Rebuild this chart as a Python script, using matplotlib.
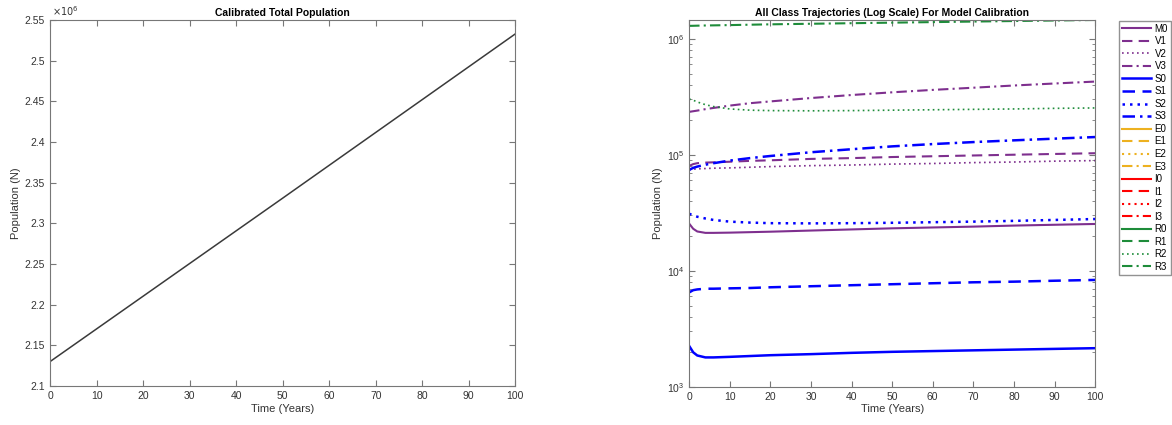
import matplotlib.pyplot as plt
from matplotlib.ticker import FixedLocator, FuncFormatter, LogLocator, NullFormatter

plt.rcParams['font.family'] = ['Liberation Sans', 'DejaVu Sans']

# left panel: total population
t_total = [0, 50, 100]
N_total = [2.130e6, 2.331e6, 2.533e6]

# right panel: class trajectories (years)
t = [0, 1, 2, 4, 6, 10, 15, 20, 30, 40, 50, 60, 70, 80, 90, 100]

M0 = [2.55e4, 2.30e4, 2.18e4, 2.12e4, 2.12e4, 2.13e4, 2.15e4, 2.17e4, 2.22e4, 2.27e4, 2.32e4, 2.36e4, 2.40e4, 2.45e4, 2.49e4, 2.53e4]
V1 = [8.0e4, 8.3e4, 8.45e4, 8.55e4, 8.6e4, 8.7e4, 8.85e4, 8.95e4, 9.2e4, 9.35e4, 9.55e4, 9.7e4, 9.85e4, 10.0e4, 10.15e4, 10.3e4]
V2 = [7.4e4, 7.5e4, 7.55e4, 7.6e4, 7.65e4, 7.7e4, 7.8e4, 7.9e4, 8.05e4, 8.15e4, 8.3e4, 8.4e4, 8.55e4, 8.65e4, 8.8e4, 8.9e4]
V3 = [2.34e5, 2.37e5, 2.40e5, 2.47e5, 2.53e5, 2.65e5, 2.78e5, 2.88e5, 3.08e5, 3.27e5, 3.45e5, 3.62e5, 3.78e5, 3.95e5, 4.11e5, 4.27e5]
S0 = [2.25e3, 1.98e3, 1.86e3, 1.79e3, 1.79e3, 1.81e3, 1.84e3, 1.87e3, 1.91e3, 1.96e3, 2.00e3, 2.03e3, 2.06e3, 2.09e3, 2.12e3, 2.15e3]
S1 = [6.5e3, 6.8e3, 6.9e3, 7.0e3, 7.0e3, 7.05e3, 7.1e3, 7.2e3, 7.35e3, 7.5e3, 7.65e3, 7.8e3, 7.95e3, 8.05e3, 8.2e3, 8.33e3]
S2 = [3.1e4, 3.0e4, 2.92e4, 2.82e4, 2.74e4, 2.65e4, 2.6e4, 2.57e4, 2.56e4, 2.57e4, 2.59e4, 2.62e4, 2.65e4, 2.69e4, 2.74e4, 2.79e4]
S3 = [7.4e4, 7.7e4, 7.9e4, 8.2e4, 8.45e4, 8.9e4, 9.35e4, 9.75e4, 10.5e4, 11.15e4, 11.8e4, 12.35e4, 12.85e4, 13.3e4, 13.75e4, 14.2e4]
R2 = [3.02e5, 2.95e5, 2.85e5, 2.70e5, 2.60e5, 2.48e5, 2.42e5, 2.40e5, 2.39e5, 2.40e5, 2.42e5, 2.44e5, 2.46e5, 2.48e5, 2.51e5, 2.53e5]
R3 = [1.29e6, 1.292e6, 1.295e6, 1.30e6, 1.303e6, 1.31e6, 1.32e6, 1.33e6, 1.345e6, 1.36e6, 1.375e6, 1.39e6, 1.405e6, 1.42e6, 1.435e6, 1.45e6]

purple = '#7E2F8E'
blue = '#0000FF'
yellow = '#EDB120'
red = '#FF0000'
green = '#1E8C3A'

styles = {'-': '-', '--': (0, (5, 3)), ':': (0, (1, 2)), '-.': (0, (5, 2, 1, 2))}

# label, data, colour, style, width (None data = not visible in range)
series = [
    ('M0', M0, purple, '-', 1.5), ('V1', V1, purple, '--', 1.5),
    ('V2', V2, purple, ':', 1.2), ('V3', V3, purple, '-.', 1.5),
    ('S0', S0, blue, '-', 1.8), ('S1', S1, blue, '--', 1.8),
    ('S2', S2, blue, ':', 1.8), ('S3', S3, blue, '-.', 1.8),
    ('E0', None, yellow, '-', 1.5), ('E1', None, yellow, '--', 1.5),
    ('E2', None, yellow, ':', 1.5), ('E3', None, yellow, '-.', 1.5),
    ('I0', None, red, '-', 1.5), ('I1', None, red, '--', 1.5),
    ('I2', None, red, ':', 1.5), ('I3', None, red, '-.', 1.5),
    ('R0', None, green, '-', 1.5), ('R1', None, green, '--', 1.5),
    ('R2', R2, green, ':', 1.2), ('R3', R3, green, '-.', 1.5),
]

fig = plt.figure(figsize=(11.72, 4.25), dpi=100)
ax1 = fig.add_axes([0.0427, 0.0918, 0.397, 0.861])
ax2 = fig.add_axes([0.588, 0.0900, 0.3464, 0.863])

for ax in (ax1, ax2):
    for s in ax.spines.values():
        s.set_color('#777777')
        s.set_linewidth(0.8)
    ax.tick_params(which='both', direction='in', top=True, right=True,
                   colors='#777777', labelcolor='#333333', labelsize=7.5)
    ax.tick_params(which='major', length=4)
    ax.tick_params(which='minor', length=2)
    ax.set_xlim(0, 100)
    ax.set_xticks(range(0, 101, 10))
    ax.set_xlabel('Time (Years)', fontsize=8, color='#333333', labelpad=2)
    ax.set_ylabel('Population (N)', fontsize=8, color='#333333', labelpad=3)

# left
ax1.plot(t_total, N_total, color='#3a3a3a', lw=1.1)
ax1.set_ylim(2.1e6, 2.55e6)
ax1.yaxis.set_major_locator(FixedLocator([2.1e6 + 0.05e6 * i for i in range(10)]))
ax1.yaxis.set_major_formatter(FuncFormatter(lambda v, p: '%g' % round(v / 1e6, 2)))
ax1.text(0.005, 1.005, r'$\times10^6$', transform=ax1.transAxes, fontsize=7,
         color='#333333', ha='left', va='bottom')
ax1.set_title('Calibrated Total Population', fontsize=7.5, fontweight='bold', pad=3)

# right
for label, data, col, ls, lw in series:
    if data is None:
        ax2.plot([], [], color=col, linestyle=styles[ls], lw=lw, label=label)
    else:
        ax2.plot(t, data, color=col, linestyle=styles[ls], lw=lw, label=label)
ax2.set_yscale('log')
ax2.set_ylim(1e3, 1.45e6)
ax2.yaxis.set_major_locator(LogLocator(base=10, numticks=10))
ax2.yaxis.set_minor_locator(LogLocator(base=10, subs=range(2, 10), numticks=10))
ax2.yaxis.set_minor_formatter(NullFormatter())
ax2.set_title('All Class Trajectories (Log Scale) For Model Calibration',
              fontsize=7.5, fontweight='bold', pad=3)

fig.legend(loc='upper right', bbox_to_anchor=(0.999, 0.951), fontsize=7,
           handlelength=3.0, handletextpad=0.35, labelspacing=0.26,
           borderpad=0.3, frameon=True, fancybox=False, edgecolor='#777777',
           borderaxespad=0)

fig.savefig('out.png', dpi=100, facecolor='white')
